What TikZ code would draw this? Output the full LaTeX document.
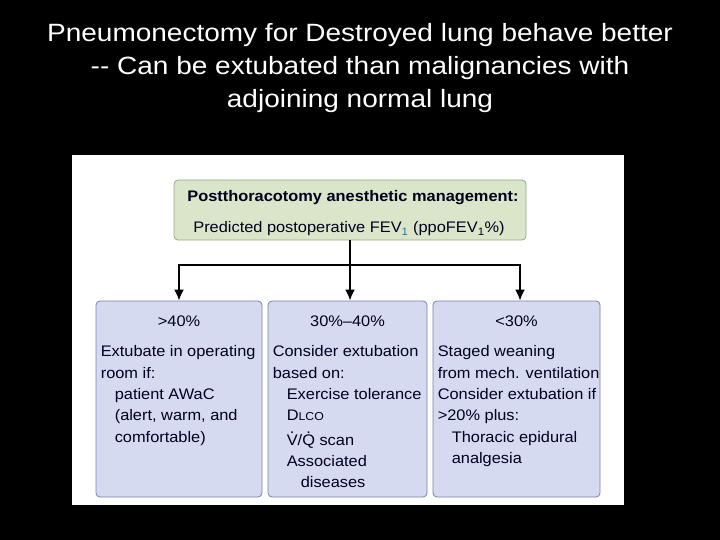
\documentclass[tikz,border=0pt]{standalone}
\usepackage{fontspec}
\setmainfont{Liberation Sans}
\newfontfamily\titlefont[FakeStretch=1.12]{Liberation Sans}
\newfontfamily\boxfont[FakeStretch=1.07]{Liberation Sans}
\usetikzlibrary{arrows.meta}
\definecolor{subteal}{RGB}{30,125,145}
% dot over a letter (flow rates)
\newcommand{\flowdot}[1]{\ooalign{#1\cr\hidewidth\smash{\raisebox{0.76em}{.}}\hidewidth\cr}}
\newcommand{\subone}[1][subteal]{\textsubscript{\color{#1}1}}

\begin{document}
\begin{tikzpicture}[x=1pt,y=-1pt,
  titletext/.style={anchor=base,inner sep=0pt,text=white,font=\titlefont\fontsize{25}{33}\selectfont},
  topbox/.style={draw=topedge,fill=topfill,rounded corners=4pt,line width=0.8pt,
    minimum width=352pt,minimum height=60pt,inner sep=0pt},
  toptext/.style={anchor=base,inner sep=0pt,text=ink,font=\boxfont\fontsize{15.3}{21.3}\selectfont},
  choice/.style={draw=boxedge,fill=boxfill,rounded corners=4pt,line width=0.8pt,
    minimum height=196pt,inner sep=0pt},
  head/.style={anchor=base,inner sep=0pt,text=ink,font=\boxfont\fontsize{15.3}{21.3}\selectfont},
  body/.style={anchor=north west,inner sep=0pt,align=left,text=ink,
    font=\boxfont\fontsize{15.3}{21.3}\selectfont},
  flow/.style={line width=2pt,-{Latex[length=11pt,width=10pt]}}]
  \colorlet{ink}{black!88!blue}
  \definecolor{topfill}{RGB}{218,229,202}
  \definecolor{topedge}{RGB}{150,168,130}
  \definecolor{boxfill}{RGB}{213,218,240}
  \definecolor{boxedge}{RGB}{118,130,172}

  % slide and figure panel
  \fill[black] (0,0) rectangle (720,540);
  \fill[white] (72,155) rectangle (624,505);

  % slide title
  \node[titletext] (title1) at (360,42) {Pneumonectomy for Destroyed lung behave better};
  \node[titletext] (title2) at (360,75) {-{}- Can be extubated than malignancies with};
  \node[titletext] (title3) at (360,108) {adjoining normal lung};

  % decision box
  \node[topbox] (top) at (350,210) {};
  \node[toptext,font=\boxfont\bfseries\fontsize{15.3}{21.3}\selectfont] (topline1) at (353,201.5)
    {Postthoracotomy anesthetic management:};
  \node[toptext] (topline2) at (349,233) {Predicted postoperative FEV\subone{} (ppoFEV\subone[ink]\%)};

  % the three ppoFEV1 ranges
  \node[choice,minimum width=166pt] (b1) at (179,399) {};
  \node[choice,minimum width=159pt] (b2) at (347.5,399) {};
  \node[choice,minimum width=167pt] (b3) at (516.5,399) {};

  \node[head] (h1) at ([shift={(0,26)}]b1.north) {>40\%};
  \node[head] (h2) at ([shift={(0,26)}]b2.north) {30\%\textendash 40\%};
  \node[head] (h3) at ([shift={(0,26)}]b3.north) {<30\%};

  \node[body] (t1) at ([shift={(5,45)}]b1.north west)
    {Extubate in operating\\room if:\\\hspace{14pt}patient AWaC\\\hspace{14pt}(alert, warm, and\\\hspace{14pt}comfortable)};
  \node[body] (t2) at ([shift={(5,45)}]b2.north west)
    {Consider extubation\\based on:\\\hspace{14pt}Exercise tolerance\\
     \hspace{14pt}D{\fontsize{11.5}{21.3}\selectfont LCO}\\[3pt]
     \hspace{14pt}\flowdot{V}/\flowdot{Q} scan\\\hspace{14pt}Associated\\\hspace{28pt}diseases};
  \node[body] (t3) at ([shift={(5,45)}]b3.north west)
    {Staged weaning\\from mech. ventilation\\Consider extubation if\\>20\% plus:\\
     \hspace{14pt}Thoracic epidural\\\hspace{14pt}analgesia};

  % connectors
  \draw[line width=2pt] (top.south) -- ++(0,25) coordinate (fork);
  \draw[flow] (fork) -| (b1.north);
  \draw[flow] (fork) -- (fork |- b2.north);
  \draw[flow] (fork) -| ([xshift=3.5pt]b3.north);
\end{tikzpicture}
\end{document}
